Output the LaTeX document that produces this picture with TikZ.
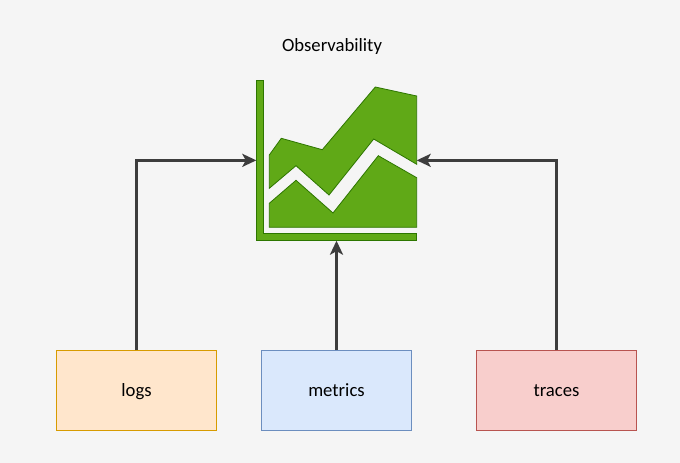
\documentclass[tikz,border=0pt]{standalone}
\usepackage{fontspec}
\setmainfont{Carlito}
\usetikzlibrary{arrows.meta}
\definecolor{bgc}{HTML}{F5F5F5}
\definecolor{linkc}{HTML}{3D3D3D}
\definecolor{iconf}{HTML}{60A917}
\definecolor{iconl}{HTML}{2D7600}
\definecolor{logf}{HTML}{FFE6CC}
\definecolor{logl}{HTML}{D79B00}
\definecolor{metf}{HTML}{DAE8FC}
\definecolor{metl}{HTML}{6C8EBF}
\definecolor{trcf}{HTML}{F8CECC}
\definecolor{trcl}{HTML}{B85450}
\tikzset{
  labeltext/.style={font=\fontsize{18.7}{20}\selectfont,text=black,text height=13pt,text depth=2pt},
  box/.style={labeltext,draw,line width=0.8pt,minimum height=80pt,inner sep=0pt},
  iconpart/.style={fill=iconf,draw=iconl,line width=0.8pt,line join=miter},
  link/.style={draw=linkc,line width=3pt,-{Stealth[length=14pt,width=13pt,inset=3.5pt]}},
}
\begin{document}
\begin{tikzpicture}[x=1pt,y=-1pt]
\fill[bgc] (0,0) rectangle (680,463);
\useasboundingbox (0,0) rectangle (680,463);
\node[inner sep=0pt,outer sep=0pt,minimum width=160.4pt,minimum height=160.7pt] (icon) at (336.5,160.35) {};
\draw[iconpart] (256.3,80) -- (263.3,80) -- (263.3,233.3) -- (416.7,233.3) -- (416.7,240.7) -- (256.3,240.7) -- cycle;
\draw[iconpart] (269.3,188.3) -- (269.3,155) -- (281.3,138.3) -- (322.3,149.7) -- (375.3,87) -- (416.7,96) -- (416.7,164.3) -- (373.7,139) -- (329,195) -- (296,165.7) -- cycle;
\draw[iconpart] (269.3,203.3) -- (296,180.3) -- (333,213) -- (378.3,155.7) -- (416.7,177.7) -- (416.7,227.3) -- (269.3,227.3) -- cycle;
\node[labeltext,inner sep=0pt] (title) at (332,46) {Observability};
\node[box,fill=logf,draw=logl,minimum width=160pt] (logs) at (136.5,390.5) {logs};
\node[box,fill=metf,draw=metl,minimum width=150pt] (metrics) at (336.5,390.5) {metrics};
\node[box,fill=trcf,draw=trcl,minimum width=160pt] (traces) at (556.5,390.5) {traces};
\draw[link] (logs.north) |- (icon.west);
\draw[link] (metrics.north) -- (icon.south);
\draw[link] (traces.north) |- (icon.east);
\end{tikzpicture}
\end{document}
